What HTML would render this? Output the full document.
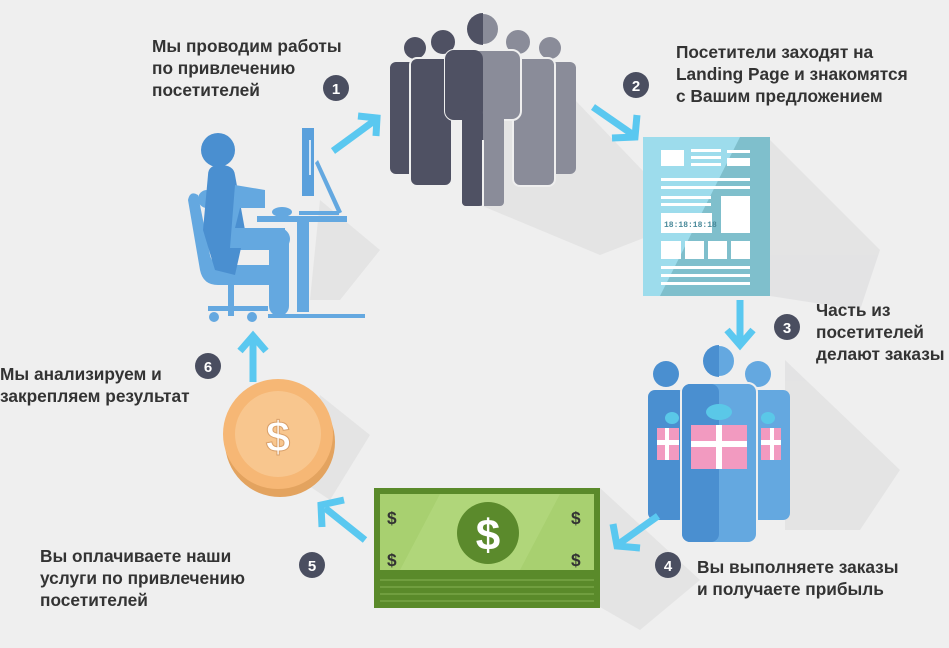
<!DOCTYPE html>
<html><head><meta charset="utf-8"><style>
html,body{margin:0;padding:0;background:#efefef;}
svg{display:block}
text{font-family:"Liberation Sans",sans-serif;font-weight:bold;font-size:17.3px;fill:#333;}
.b{fill:#fff;font-size:15px;text-anchor:middle}
</style></head><body>
<svg width="949" height="648" viewBox="0 0 949 648" xmlns="http://www.w3.org/2000/svg">
<rect width="949" height="648" fill="#efefef"/>
<!-- shadows -->
<g fill="#d6d6d8" opacity="0.45">
<polygon points="520,60 575,100 690,220 600,255 480,205"/>
<polygon points="770,140 880,250 860,310 770,296"/>
<polygon points="785,360 900,470 860,530 785,530"/>
<polygon points="600,488 700,580 640,630 600,607"/>
<polygon points="320,395 370,435 330,500 300,480"/>
<polygon points="320,200 380,250 340,300 310,300"/>
</g>
<!-- crowd -->
<g>
<circle cx="415" cy="48" r="11" fill="#4f5163"/><rect x="390" y="62" width="32" height="112" rx="6" fill="#4f5163"/>
<circle cx="550" cy="48" r="11" fill="#8a8c99"/><rect x="548" y="62" width="28" height="112" rx="6" fill="#8a8c99"/>
<circle cx="443" cy="42" r="13" fill="#4f5163" stroke="#efefef" stroke-width="2"/><rect x="410" y="58" width="42" height="128" rx="7" fill="#4f5163" stroke="#efefef" stroke-width="2"/>
<circle cx="518" cy="42" r="13" fill="#8a8c99" stroke="#efefef" stroke-width="2"/><rect x="513" y="58" width="42" height="128" rx="7" fill="#8a8c99" stroke="#efefef" stroke-width="2"/>
<circle cx="483" cy="29" r="16" fill="#8a8c99" stroke="#efefef" stroke-width="2"/>
<path d="M483,13 a16,16 0 0 0 0,32z" fill="#4f5163"/>
<rect x="445" y="50" width="76" height="70" rx="9" fill="#8a8c99" stroke="#efefef" stroke-width="2"/>
<rect x="462" y="110" width="42" height="96" rx="4" fill="#8a8c99"/>
<rect x="445" y="50" width="38" height="70" rx="9" fill="#4f5163"/><rect x="462" y="110" width="21" height="96" rx="4" fill="#4f5163"/>
<line x1="483" y1="140" x2="483" y2="206" stroke="#efefef" stroke-width="2"/>
</g>
<!-- document -->
<polygon points="643,137 770,137 770,296 655,296" fill="#7fbfcc"/>
<polygon points="643,137 740,137 660,296 643,296" fill="#9ddcec"/>
<g fill="#fff">
<rect x="661" y="150" width="23" height="16"/><rect x="691" y="149" width="30" height="3"/><rect x="691" y="156" width="30" height="3"/><rect x="691" y="163" width="30" height="3"/>
<rect x="727" y="150" width="23" height="3"/><rect x="727" y="158" width="23" height="8"/>
<rect x="661" y="178" width="89" height="3"/><rect x="661" y="186" width="89" height="3"/>
<rect x="661" y="196" width="50" height="3"/><rect x="661" y="203" width="50" height="3"/>
<rect x="661" y="213" width="51" height="20"/><rect x="721" y="196" width="29" height="37"/>
<rect x="661" y="241" width="20" height="18"/><rect x="685" y="241" width="19" height="18"/><rect x="708" y="241" width="19" height="18"/><rect x="731" y="241" width="19" height="18"/>
<rect x="661" y="266" width="89" height="3"/><rect x="661" y="274" width="89" height="3"/><rect x="661" y="282" width="89" height="3"/>
</g>
<text x="664" y="227" style="font-size:8px;fill:#4a8a9a;font-family:'Liberation Mono',monospace">18:18:18:18</text>
<!-- seated person -->
<g fill="#64a8e0">
<rect x="302" y="128" width="12" height="68" fill="#5aa0dc"/>
<line x1="310" y1="140" x2="310" y2="175" stroke="#fff" stroke-width="1.5"/>
<polygon points="315,163 318,160 342,212 338,214" />
<rect x="299" y="211" width="40" height="4"/>
<rect x="257" y="216" width="90" height="6"/>
<rect x="297" y="222" width="12" height="90"/>
<rect x="268" y="314" width="97" height="4"/>
<ellipse cx="282" cy="212" rx="10" ry="5"/>
<rect x="198" y="190" width="66" height="18" rx="9"/>
<rect x="220" y="228" width="70" height="22" rx="11"/>
<rect x="269" y="228" width="20" height="88" rx="10"/>
<path d="M188,200 q2,-10 10,-5 l12,60 q2,10 15,10 l43,0 q10,0 10,10 q0,10 -10,10 l-50,0 q-15,0 -18,-15z"/>
<rect x="228" y="280" width="6" height="36"/>
<rect x="208" y="306" width="60" height="5"/>
<circle cx="214" cy="317" r="5"/><circle cx="252" cy="317" r="5"/>
</g>
<circle cx="218" cy="150" r="17" fill="#4a8fd0"/>
<path d="M208,175 q0,-10 12,-10 q14,0 15,10 l10,55 l-10,45 l-20,-5 l-12,-40z" fill="#4a8fd0"/>
<path d="M235,185 l30,5 l0,18 l-25,0 l-5,20 l50,0 l0,20 l-55,0z" fill="#64a8e0"/>
<!-- coin -->
<circle cx="280" cy="442" r="55" fill="#e3a35f"/>
<circle cx="278" cy="434" r="55" fill="#f6b775"/>
<circle cx="278" cy="434" r="43" fill="#f8c68e"/>
<text x="278" y="452" style="font-size:44px;fill:#fff;text-anchor:middle;stroke:#d9a06a;stroke-width:1">$</text>
<!-- money -->
<rect x="374" y="488" width="226" height="120" fill="#5a8a2a"/>
<rect x="380" y="494" width="214" height="76" fill="#a8d070"/>
<polygon points="440,494 560,494 520,570 400,570" fill="#b5da80" opacity="0.6"/>
<g stroke="#86b254" stroke-width="1"><line x1="380" y1="580" x2="594" y2="580"/><line x1="380" y1="587" x2="594" y2="587"/><line x1="380" y1="594" x2="594" y2="594"/><line x1="380" y1="601" x2="594" y2="601"/></g>
<circle cx="488" cy="533" r="31" fill="#5b8a2c"/>
<text x="488" y="550" style="font-size:44px;fill:#fff;text-anchor:middle">$</text>
<g style="font-size:26px;fill:#5b8a2c"><text x="387" y="524">$</text><text x="571" y="524">$</text><text x="387" y="566">$</text><text x="571" y="566">$</text></g>
<!-- group right -->
<g fill="#4a8fd0">
<circle cx="666" cy="374" r="13"/><rect x="648" y="390" width="38" height="130" rx="7"/>
<circle cx="758" cy="374" r="13" fill="#64a8e0"/><rect x="738" y="390" width="52" height="130" rx="7" fill="#64a8e0"/>
<circle cx="719" cy="361" r="16" fill="#64a8e0" stroke="#efefef" stroke-width="2"/>
<path d="M719,345 a16,16 0 0 0 0,32z"/>
<rect x="681" y="383" width="76" height="160" rx="9" fill="#64a8e0" stroke="#efefef" stroke-width="2"/>
<rect x="682" y="384" width="37" height="158" rx="8"/>
</g>
<g fill="#5ac8e8"><ellipse cx="719" cy="412" rx="13" ry="8"/><ellipse cx="672" cy="418" rx="7" ry="6"/><ellipse cx="768" cy="418" rx="7" ry="6"/></g>
<g fill="#f29ac0"><rect x="691" y="425" width="56" height="44"/><rect x="657" y="428" width="22" height="32"/><rect x="761" y="428" width="20" height="32"/></g>
<g fill="#fff"><rect x="716" y="425" width="6" height="44"/><rect x="691" y="441" width="56" height="6"/><rect x="657" y="440" width="22" height="5"/><rect x="761" y="440" width="20" height="5"/><rect x="665" y="428" width="4" height="32"/><rect x="770" y="428" width="4" height="32"/></g>
<!-- arrows -->
<g stroke="#5ac8f0" stroke-width="7" fill="none" stroke-linecap="butt">
<line x1="333" y1="151" x2="374" y2="121"/><polyline points="358,116 377,118 376,136"/>
<line x1="593" y1="107" x2="632" y2="134"/><polyline points="612,138 635,137 637,115"/>
<line x1="740" y1="300" x2="740" y2="343"/><polyline points="727,330 740,345 753,330"/>
<line x1="658" y1="516" x2="620" y2="543"/><polyline points="613,524 617,546 640,548"/>
<line x1="365" y1="540" x2="325" y2="508"/><polyline points="322,527 321,505 344,500"/>
<line x1="253" y1="382" x2="253" y2="338"/><polyline points="240,351 253,336 266,351"/>
</g>
<!-- badges -->
<g fill="#4a4e60"><circle cx="336" cy="88" r="13"/><circle cx="636" cy="85" r="13"/><circle cx="787" cy="327" r="13"/><circle cx="668" cy="565" r="13"/><circle cx="312" cy="565" r="13"/><circle cx="208" cy="366" r="13"/></g>
<text class="b" x="336" y="94">1</text><text class="b" x="636" y="91">2</text><text class="b" x="787" y="333">3</text><text class="b" x="668" y="571">4</text><text class="b" x="312" y="571">5</text><text class="b" x="208" y="372">6</text>
<!-- labels -->
<text x="152" y="52">Мы проводим работы</text><text x="152" y="74">по привлечению</text><text x="152" y="96">посетителей</text>
<text x="676" y="58">Посетители заходят на</text><text x="676" y="80">Landing Page и знакомятся</text><text x="676" y="102">с Вашим предложением</text>
<text x="816" y="316">Часть из</text><text x="816" y="338">посетителей</text><text x="816" y="360">делают заказы</text>
<text x="697" y="573">Вы выполняете заказы</text><text x="697" y="595">и получаете прибыль</text>
<text x="40" y="562">Вы оплачиваете наши</text><text x="40" y="584">услуги по привлечению</text><text x="40" y="606">посетителей</text>
<text x="0" y="380">Мы анализируем и</text><text x="0" y="402">закрепляем результат</text>
</svg>
</body></html>
